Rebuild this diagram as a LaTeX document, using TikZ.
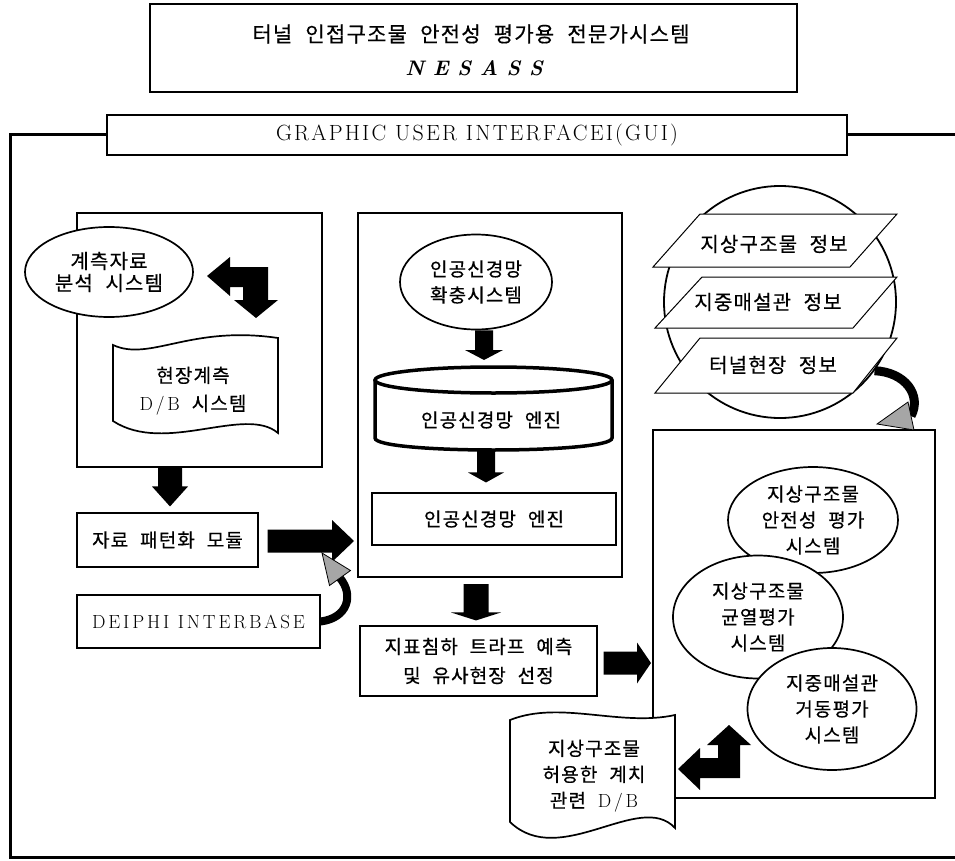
\documentclass[tikz,border=0pt]{standalone}
\usepackage{fontspec}
\newfontfamily\kr[WordSpace=2.2,LetterSpace=6,FakeBold=0.5]{Noto Sans CJK KR}
\newfontfamily\lmsp[LetterSpace=10]{Latin Modern Roman}
\newfontfamily\lmspw[LetterSpace=15]{Latin Modern Roman}
\usetikzlibrary{shapes.geometric,calc}
\newcommand\kf{\kr\fontsize{19}{26}\selectfont}
\newcommand\lmdb{{\lmspw D/B}}
% down block arrow: #1 x, #2 from, #3 to, #4 gap, #5 shaft half, #6 head half, #7 head length
\newcommand\downblk[7]{\fill let \p1=(#2), \p2=(#3) in
  (#1pt-#5pt,\y1) -- (#1pt+#5pt,\y1) -- (#1pt+#5pt,\y2+#4pt+#7pt) -- (#1pt+#6pt,\y2+#4pt+#7pt)
  -- (#1pt,\y2+#4pt) -- (#1pt-#6pt,\y2+#4pt+#7pt) -- (#1pt-#5pt,\y2+#4pt+#7pt) -- cycle;}
% right block arrow: #1 y
\newcommand\rightblk[7]{\fill let \p1=(#2), \p2=(#3) in
  (\x1,-#1pt+#5pt) -- (\x2-#4pt-#7pt,-#1pt+#5pt) -- (\x2-#4pt-#7pt,-#1pt+#6pt) -- (\x2-#4pt,-#1pt)
  -- (\x2-#4pt-#7pt,-#1pt-#6pt) -- (\x2-#4pt-#7pt,-#1pt-#5pt) -- (\x1,-#1pt-#5pt) -- cycle;}
\tikzset{
  frm/.style={line width=3pt},
  bx/.style={draw, line width=2pt, inner sep=0pt},
  tbx/.style={draw, line width=1.1pt, fill=white, inner sep=0pt, align=center, font=\kf},
  el/.style={draw, ellipse, line width=1.7pt, fill=white, inner sep=0pt, align=center, font=\kf},
  txt/.style={inner sep=0pt, align=center, font=\kf},
  docsh/.style={draw, line width=1.7pt, fill=white},
  hatchhead/.style={fill=black!35, draw=black, line width=0.8pt},
}
\begin{document}
\begin{tikzpicture}[x=1pt,y=-1pt]
\useasboundingbox (0,0) rectangle (955,861);
% title
\node[draw, line width=2.8pt, minimum width=647pt, minimum height=88pt] (title) at (473.5,48) {};
\node[inner sep=0pt, font=\kr\fontsize{21}{25}\selectfont] (t1) at (471,34) {터널 인접구조물 안전성 평가용 전문가시스템};
\node[inner sep=0pt, font=\fontsize{21}{25}\selectfont\bfseries\itshape] (t2) at (474,68) {N E S A S S};
% GUI bar and outer frame
\node[draw, line width=2.8pt, minimum width=740pt, minimum height=40pt, font=\lmsp\fontsize{22}{26}\selectfont] (gui) at (477,135) {GRAPHIC USER INTERFACEI(GUI)};
\draw[frm] (gui.west) -- (10,135) -- (10,857.5) -- (960,857.5);
\draw[frm] (gui.east) -- (960,135);
% left column
\node[bx, minimum width=245pt, minimum height=254pt] (lbox) at (199.5,340) {};
\node[el, minimum width=168pt, minimum height=90pt, font=\kr\fontsize{20}{22}\selectfont] (lell) at (109,272) {계측자료\\분석 시스템};
\fill (207,276) -- (230,257) -- (230,267) -- (268,267) -- (268,300) -- (278,300) -- (256,318)
  -- (234,300) -- (243,300) -- (243,287) -- (230,287) -- (230,296) -- cycle;
\draw[docsh] (113,345) .. controls (150,362) and (190,325) .. (278,338) -- (278,433)
  .. controls (245,405) and (165,455) .. (113,421) -- cycle;
\node[txt, font=\kr\fontsize{19}{28}\selectfont] (doc1) at (193,391) {현장계측\\\lmdb{} 시스템};
\node[tbx, minimum width=181pt, minimum height=54pt] (pat) at (167.5,540) {자료 패턴화 모듈};
\node[tbx, minimum width=243pt, minimum height=53pt, font=\lmspw\fontsize{19}{22}\selectfont] (dei) at (198.5,621.5) {DEIPHI INTERBASE};
\downblk{170}{lbox.south}{pat.north}{6}{12}{18}{20}
% middle column
\node[bx, minimum width=264pt, minimum height=364pt] (mbox) at (490,395) {};
\node[el, minimum width=152pt, minimum height=95pt] (mell) at (476,282) {인공신경망\\확충시스템};
\draw[line width=3.5pt, fill=white] (375,380) -- (375,438) .. controls (375,454) and (612,454) .. (612,438) -- (612,380);
\draw[line width=3.5pt, fill=white] (493.5,380) ellipse[x radius=118.5, y radius=13];
\coordinate (cyltop) at (484,367);
\coordinate (cylbot) at (486,450);
\node[txt] (cyl) at (491,420) {인공신경망 엔진};
\node[tbx, minimum width=244pt, minimum height=52pt] (eng) at (494,519) {인공신경망 엔진};
\node[tbx, minimum width=237pt, minimum height=70pt, font=\kr\fontsize{19}{29}\selectfont] (pred) at (478.5,661) {지표침하 트라프 예측\\및 유사현장 선정};
\downblk{484}{mell.south}{cyltop}{7}{9}{19}{10}
\downblk{486}{cylbot}{eng.north}{10}{9}{18}{10}
\downblk{476}{[yshift=-6pt]mbox.south}{pred.north}{5}{12.5}{25}{8}
\rightblk{541}{[xshift=9pt]pat.east}{mbox.west}{3}{11.5}{21}{22}
% curved arrow from DEIPHI
\draw[line width=8pt] (dei.east) .. controls (348,618) and (354,595) .. (340,578);
\draw[hatchhead] (322,553) -- (350.5,570.5) -- (329.5,585.5) -- cycle;
% right top: circle with parallelograms
\node[circle, draw, line width=1.8pt, minimum size=232pt, inner sep=0pt] (circ) at (780,302) {};
\draw[line width=1pt, fill=white] (700,214) -- (897,214) -- (850,267) -- (653,267) -- cycle;
\draw[line width=1pt, fill=white] (702,277) -- (897,277) -- (853,328) -- (655,328) -- cycle;
\draw[line width=1pt, fill=white] (700,338) -- (897,338) -- (853,393) -- (655,393) -- cycle;
\node[txt, font=\kr\fontsize{20}{24}\selectfont] (p1) at (774,244) {지상구조물 정보};
\node[txt, font=\kr\fontsize{20}{24}\selectfont] (p2) at (768,302) {지중매설관 정보};
\node[txt, font=\kr\fontsize{20}{24}\selectfont] (p3) at (773,365) {터널현장 정보};
% right bottom box
\node[bx, minimum width=282pt, minimum height=368pt] (rbox) at (794,614) {};
\draw[line width=9pt] (circ.-36) .. controls (905,372) and (922,395) .. (911,416);
\draw[hatchhead] (877,424) -- (908,402) -- (914,430) -- cycle;
\node[el, minimum width=170pt, minimum height=106pt] (e1) at (813,520) {지상구조물\\안전성 평가\\시스템};
\node[el, minimum width=170pt, minimum height=123pt] (e2) at (758,617) {지상구조물\\균열평가\\시스템};
\node[el, minimum width=169pt, minimum height=122pt] (e3) at (832,709) {지중매설관\\거동평가\\시스템};
\fill (729,725) -- (751,745) -- (740,745) -- (740,778) -- (700,778) -- (700,790) -- (678,769)
  -- (700,748) -- (700,758) -- (718,758) -- (718,745) -- (707,745) -- cycle;
\draw[docsh] (510,720) .. controls (560,700) and (620,727) .. (675,715) -- (675,828)
  .. controls (640,790) and (560,870) .. (510,822) -- cycle;
\node[txt] (doc2) at (594,776) {지상구조물\\허용한 계치\\관련 \lmdb};
\rightblk{663}{[xshift=6pt]pred.east}{rbox.west}{1}{11.5}{20.5}{14}
\end{tikzpicture}
\end{document}
